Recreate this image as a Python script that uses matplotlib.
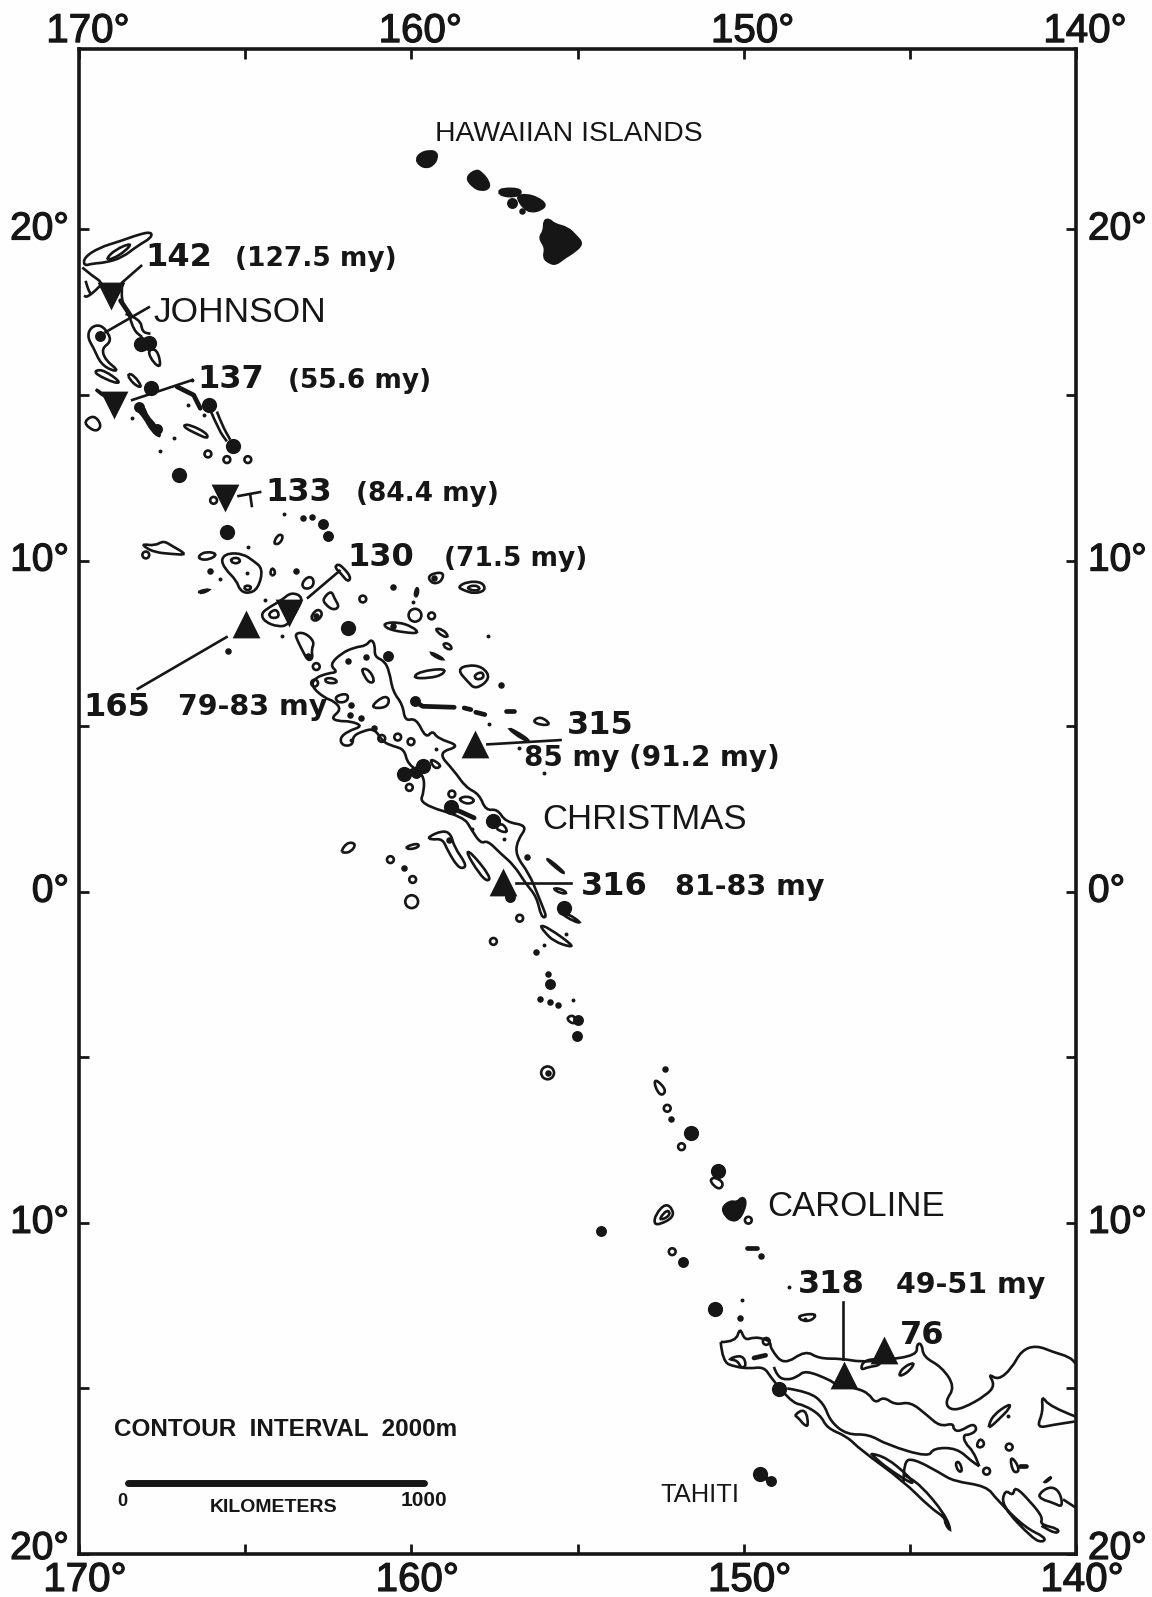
import matplotlib
matplotlib.use("Agg")
import matplotlib.pyplot as plt
import matplotlib.patheffects as pe
from matplotlib.path import Path
from matplotlib.patches import PathPatch
from matplotlib.transforms import ScaledTranslation

INK = "#161616"

lon_ticks = [170, 165, 160, 155, 150, 145, 140]
lon_labels = ["170°", "", "160°", "", "150°", "", "140°"]
lat_ticks = [20, 15, 10, 5, 0, -5, -10, -15, -20]
lat_labels = ["20°", "", "10°", "", "0°", "", "10°", "", "20°"]

# drill sites, lon W / lat
sites_down = [(169.05, 18.0), (168.95, 14.7), (165.6, 11.9), (163.68, 8.43)]
sites_up = [(164.96, 8.1), (158.09, 4.45), (157.23, 0.3), (146.97, -14.6), (145.77, -13.85)]

leaders = [
    [(168.7, 18.4), (168.13, 18.9)],
    [(169.2, 16.9), (167.9, 17.65)],
    [(168.4, 14.85), (166.6, 15.45)],
    [(165.2, 11.95), (164.55, 12.07)],
    [(164.85, 12.0), (164.8, 11.65)],
    [(163.11, 8.88), (162.16, 9.69)],
    [(165.56, 7.69), (168.23, 6.13)],
    [(157.71, 4.45), (155.51, 4.58)],
    [(156.86, 0.27), (155.21, 0.27)],
    [(147.02, -12.4), (147.02, -14.1)],
]

# islands
kauai = [(159.85, 22.12), (159.72, 22.3), (159.45, 22.37), (159.25, 22.33), (159.23, 22.15), (159.35, 21.95), (159.55, 21.87), (159.75, 21.95)]
oahu = [(158.35, 21.57), (158.05, 21.8), (157.88, 21.7), (157.68, 21.45), (157.66, 21.25), (157.9, 21.18), (158.15, 21.3)]
molokai = [(157.38, 21.13), (157.25, 21.23), (156.75, 21.22), (156.7, 21.08), (156.9, 21.0), (157.25, 21.02)]
maui = [(156.8, 21.0), (156.55, 21.05), (156.2, 20.95), (155.95, 20.75), (156.1, 20.6), (156.4, 20.53), (156.6, 20.65), (156.75, 20.85)]
hawaii = [(156, 20.27), (155.85, 20.3), (155.7, 20.15), (155.3, 20.05), (155.05, 19.8), (154.85, 19.57), (155.1, 19.33), (155.4, 19.15), (155.65, 18.95), (155.85, 19), (156.02, 19.15), (155.95, 19.45), (156.15, 19.75), (156, 19.95)]
caroline_blob = [(150.65, -9.54), (150.4, -9.34), (150.2, -9.39), (150.05, -9.22), (149.93, -9.34), (150.0, -9.64), (150.15, -9.89), (150.35, -9.94), (150.55, -9.79)]
ridge_fill = [(168.25, 14.7), (168.05, 14.65), (167.95, 14.35), (167.7, 14.1), (167.52, 13.7), (167.8, 13.9), (168.05, 14.35), (168.25, 14.55)]
filled_shapes = [kauai, oahu, molokai, maui, hawaii, caroline_blob, ridge_fill]

# closed 2000 m contours
main_contour = [
    (162.46, 6.85), (162.11, 7.2), (161.71, 7.38), (161.36, 7.43), (161.21, 7.63), (161.09, 7.45), (161.11, 7.1),
    (160.81, 6.97), (160.66, 6.65), (160.56, 6.05), (160.26, 5.65), (160.19, 5.15), (159.86, 5.25), (159.56, 4.63),
    (159.36, 4.87), (159.21, 4.63), (158.51, 4.4), (159.21, 4.2), (158.71, 3.65), (158.36, 3.15), (157.96, 2.95),
    (157.76, 2.45), (157.41, 2.5), (157.16, 2.1), (156.49, 2.0), (156.81, 1.55), (156.86, 1.1), (156.46, 0.55),
    (156.21, -0.05), (156.03, -0.5), (155.93, -0.77), (156.09, -0.77), (156.23, -0.15), (156.56, 0.25), (156.91, 0.8),
    (157.31, 1.15), (157.71, 1.55), (157.91, 1.45), (158.21, 1.9), (158.41, 2.25), (159.76, 2.65), (159.61, 3.05),
    (159.63, 3.55), (160.11, 3.85), (160.21, 4.3), (160.56, 4.4), (160.86, 4.53), (161.11, 4.93), (161.46, 4.85),
    (161.76, 4.7), (161.76, 4.43), (162.06, 4.4), (162.16, 4.63), (161.91, 4.85), (161.46, 5.0), (161.81, 5.15),
    (162.21, 5.15), (162.41, 5.25), (162.11, 5.5), (162.31, 5.75), (162.61, 5.85), (163.01, 6.2), (162.91, 6.45),
    (162.51, 6.6), (162.21, 6.63),
]
closed_contours = [
    main_contour,
    [(169.85, 19.15), (169.4, 19.45), (168.75, 19.65), (168.2, 19.85), (167.82, 19.93), (167.82, 19.75), (168.25, 19.5), (168.7, 19.15), (169.2, 19.0), (169.6, 18.97), (169.85, 18.9)],
    [(169.2, 19.1), (168.9, 19.4), (168.4, 19.6), (168.6, 19.35), (169, 19.1)],
    [(167.95, 16.35), (167.75, 15.95), (167.52, 15.83), (167.65, 16.4)],
    [(169.75, 16.75), (169.65, 17.05), (169.35, 17.13), (169.1, 16.85), (169.05, 16.6), (169.32, 16.4), (169.2, 16.05), (168.82, 15.75), (169, 15.73), (169.35, 15.95), (169.55, 16.4)],
    [(169.5, 15.75), (169.25, 15.75), (168.75, 15.4), (168.9, 15.35), (169.5, 15.63)],
    [(168.52, 15.65), (168.35, 15.6), (168.1, 15.25), (168.25, 15.25), (168.5, 15.5)],
    [(169.55, 15.2), (169.35, 15.1), (169.25, 14.95)],
    [(169.85, 14.2), (169.55, 14.4), (169.32, 14.1), (169.45, 13.9), (169.7, 14.0)],
    [(166.85, 14.1), (166.65, 14.1), (166.15, 13.85), (166.12, 13.67), (166.5, 13.85), (166.8, 14)],
    [(164.16, 10.5), (164.01, 10.8), (163.84, 10.75), (163.96, 10.5)],
    [(168.09, 10.5), (167.71, 10.45), (167.46, 10.6), (167.21, 10.45), (166.73, 10.17), (167.21, 10.2), (167.71, 10.25), (168.01, 10.4)],
    [(166.41, 10.15), (166.16, 10.28), (165.83, 10.2), (166.06, 10.03), (166.36, 10.03)],
    [(165.73, 10.05), (165.51, 10.23), (165.06, 10.2), (164.76, 10.0), (164.46, 9.75), (164.61, 9.15), (164.91, 9.0), (165.16, 9.1), (165.26, 9.4), (165.61, 9.75)],
    [(165.46, 10.05), (165.21, 10.1), (165.13, 9.95), (165.36, 9.9)],
    [(165.01, 9.25), (164.81, 9.23), (164.86, 9.1), (165.03, 9.13)],
    [(164.26, 9.6), (164.19, 9.8), (164.08, 9.65), (164.16, 9.53)],
    [(166.43, 9.07), (166.01, 9.15), (166.31, 9.0)],
    [(163.31, 9.3), (163.11, 9.53), (162.93, 9.45), (162.96, 9.2), (163.21, 9.13)],
    [(164.53, 8.4), (164.26, 8.6), (163.91, 8.8), (163.61, 9.05), (163.26, 8.9), (163.41, 8.55), (163.71, 8.05), (164.01, 8.0), (164.41, 8.15)],
    [(164.31, 8.4), (164.06, 8.55), (163.96, 8.3), (164.21, 8.25)],
    [(162.21, 9.9), (162.06, 9.8), (161.81, 9.5), (161.91, 9.35), (162.11, 9.6), (162.31, 9.8)],
    [(162.66, 8.85), (162.41, 9.1), (162.31, 8.85), (162.16, 8.6), (162.36, 8.5), (162.61, 8.7)],
    [(163.01, 8.35), (162.81, 8.55), (162.66, 8.4), (162.81, 8.18), (162.99, 8.2)],
    [(163.51, 7.8), (163.21, 7.83), (162.91, 7.55), (163.01, 7.3), (162.96, 7.05), (163.11, 6.97), (163.26, 7.25), (163.41, 7.55)],
    [(159.51, 9.5), (159.31, 9.63), (159.01, 9.63), (159.11, 9.35), (159.36, 9.3)],
    [(158.61, 9.2), (158.31, 9.37), (157.86, 9.35), (157.76, 9.1), (158.11, 9.0), (158.41, 9.1)],
    [(158.36, 9.17), (158.11, 9.27), (157.91, 9.17), (158.06, 9.07)],
    [(159.91, 8.95), (159.84, 9.2), (159.78, 9.1), (159.84, 8.9)],
    [(160.86, 8.1), (160.41, 8.15), (159.96, 8.0), (159.76, 7.8), (160.21, 7.83), (160.71, 7.93)],
    [(159.31, 7.95), (159.06, 7.93), (158.86, 7.7), (159.06, 7.7)],
    [(159.06, 7.5), (158.86, 7.5), (158.76, 7.32), (158.96, 7.33)],
    [(159.46, 7.23), (159.26, 7.17), (158.99, 7.0), (159.21, 7.05)],
    [(159.96, 6.45), (159.76, 6.65), (158.96, 6.75), (159.06, 6.55), (159.46, 6.45)],
    [(158.61, 6.7), (158.31, 6.85), (157.86, 6.8), (157.61, 6.45), (158.06, 6.1), (158.31, 6.35)],
    [(158.11, 6.55), (157.86, 6.65), (157.81, 6.45), (158.06, 6.4)],
    [(156.36, 5.15), (156.11, 5.3), (155.79, 5.05), (156.11, 5.03)],
    [(157.11, 4.95), (156.86, 4.85), (156.41, 4.55), (156.66, 4.6)],
    [(162.61, 6.45), (162.31, 6.45), (162.21, 6.3), (162.56, 6.3)],
    [(161.51, 6.75), (161.26, 6.7), (161.09, 6.35), (161.26, 6.3), (161.41, 6.5)],
    [(161.21, 5.6), (160.86, 5.9), (160.66, 5.85), (160.71, 5.6), (161.01, 5.53)],
    [(162.31, 5.9), (161.91, 6.0), (161.91, 5.75), (162.21, 5.7)],
    [(159.46, 4.05), (159.06, 3.8), (159.31, 3.7)],
    [(158.61, 2.8), (158.31, 2.9), (158.06, 2.75), (158.31, 2.63)],
    [(157.51, 1.9), (157.06, 1.75), (157.26, 2.1)],
    [(159.51, 1.65), (159.06, 1.85), (158.81, 1.75), (158.71, 1.35), (158.36, 0.85), (158.41, 0.7), (158.61, 0.75), (158.91, 1.25), (159.06, 1.6), (159.41, 1.57)],
    [(158.36, 1.2), (158.21, 1.2), (157.61, 0.45), (157.71, 0.3), (157.96, 0.55)],
    [(162.11, 1.25), (161.91, 1.5), (161.66, 1.45), (161.81, 1.2), (162.06, 1.17)],
    [(160.19, 1.35), (159.81, 1.47), (159.76, 1.35), (160.06, 1.27)],
    [(155.96, 1.0), (155.81, 0.95), (155.36, 0.55), (155.51, 0.6)],
    [(155.76, 0.1), (155.51, 0.1), (155.29, -0.05), (155.51, -0.05)],
    [(155.31, -0.65), (154.86, -0.95), (155.11, -0.9), (155.51, -0.65)],
    [(156.13, -1.0), (155.86, -1.1), (155.16, -1.6), (155.21, -1.67), (155.71, -1.5), (156.01, -1.2)],
    [(155.32, -3.79), (155.1, -3.72), (155.05, -3.99), (155.25, -3.94)],
    [(152.7, -5.74), (152.6, -5.69), (152.33, -5.99), (152.45, -6.16), (152.6, -6.04)],
    [(151.02, -8.69), (150.85, -8.62), (150.6, -8.79), (150.7, -8.99), (150.9, -8.89)],
    [(152.7, -10.04), (152.65, -9.74), (152.35, -9.41), (152.13, -9.59), (152.13, -9.84), (152.5, -10.04)],
    [(152.55, -9.89), (152.3, -9.59), (152.2, -9.74), (152.4, -9.89)],
    [(148.39, -12.8), (147.79, -12.73), (147.94, -12.95), (148.24, -12.97)],
    [(150.49, -14.12), (150.04, -13.98), (149.91, -14.3), (150.07, -14.4), (150.19, -14.15)],
    [(148.49, -15.8), (148.14, -15.6), (148.04, -16.15), (148.19, -16.1), (148.34, -15.9)],
    [(146.49, -14.45), (146.39, -14.15), (145.89, -14.1), (145.89, -14.3), (146.24, -14.35)],
    [(145.34, -14.6), (145.19, -14.35), (144.84, -14.2), (144.99, -14.45), (145.24, -14.62)],
    [(143.01, -16.75), (142.89, -16.5), (142.74, -16.65), (142.84, -16.8)],
    [(143.64, -17.25), (143.51, -17.2), (143.41, -17.5), (143.54, -17.52)],
    [(142.64, -16.15), (142.49, -15.8), (141.99, -15.45), (141.99, -15.6), (142.34, -15.95), (142.59, -16.18)],
    [(141.99, -17.1), (141.84, -17.15), (141.69, -17.5), (141.89, -17.55)],
    [(141.14, -18.2), (140.79, -17.95), (140.49, -18.1), (140.39, -18.6), (140.69, -18.45), (141.04, -18.35)],
    [(140.99, -17.85), (140.69, -17.62), (140.84, -17.8)],
    [(146.19, -16.95), (145.69, -17.1), (145.09, -17.6), (144.89, -17.85), (144.99, -17.85), (145.69, -17.4), (146.09, -17.05)],
]

# contours that run on or off the frame
north_contour = [
    (150.69, -13.6), (150.24, -13.6), (150.11, -13.15), (149.97, -13.55), (149.69, -13.45), (149.39, -13.5), (149.19, -13.6),
    (149.19, -13.8), (148.79, -14.3), (148.14, -13.85), (147.74, -14.1), (147.04, -14.1), (146.49, -14.2), (145.79, -14.15),
    (144.79, -14.0), (144.79, -13.65), (144.64, -13.65), (144.59, -14.05), (144.04, -14.35), (143.64, -14.95), (143.94, -15.4),
    (143.79, -15.65), (143.39, -15.6), (142.69, -15.2), (142.44, -14.9), (142.64, -14.55), (142.34, -14.75), (141.94, -14.4),
    (141.64, -13.85), (141.19, -13.7), (140.69, -13.9), (140.19, -14.05), (140.01, -14.25),
]
middle_contour = [
    (149.09, -14.35), (148.99, -14.65), (148.69, -14.75), (148.39, -14.65), (148.14, -14.45), (147.39, -14.75), (147.29, -14.85),
    (146.59, -15), (146.24, -15.15), (146.04, -15.45), (145.79, -15.25), (145.44, -15.5), (144.99, -15.4), (144.49, -15.8),
    (144.09, -16.15), (143.69, -16.05), (143.69, -16.25), (143.49, -16.3), (143.09, -16.05), (142.97, -16.25), (143.19, -16.4),
    (143.39, -16.4), (143.34, -16.65), (143.09, -16.9), (142.91, -17.35),
]
west_contour = [
    (150.69, -13.6), (150.64, -14.2), (150.24, -14.35), (149.84, -14.4), (149.39, -14.35), (149.19, -14.65), (148.91, -15.0),
    (148.49, -15.45), (148.19, -15.5), (147.69, -15.8), (147.49, -16.2), (146.89, -16.45), (146.49, -16.85), (145.19, -17.8),
    (144.39, -18.6), (143.94, -18.9), (143.94, -19.1), (143.74, -19.35), (143.94, -18.8), (144.69, -17.9), (145.19, -17.6),
]
upper_contour = [
    (148.69, -15), (148.04, -15.1), (147.59, -15.45), (147.39, -16), (146.89, -16.4), (146.24, -16.38), (145.69, -16.7),
    (144.44, -17.08), (144.29, -16.8), (143.59, -16.8), (143.14, -17.2), (142.91, -17.35),
]
south_contour = [
    (145.19, -17.85), (145.19, -17.2), (144.89, -17.12), (144.09, -17.55), (143.69, -17.8), (142.69, -17.95), (142.39, -18.35),
    (141.54, -19.2), (140.91, -19.5), (140.99, -19.65), (141.29, -19.55), (142.24, -18.55), (142.14, -18.05), (141.89, -18.25),
    (141.84, -17.95), (141.39, -18.4), (140.99, -18.9), (141.09, -19.1), (140.49, -19.25), (140.59, -19.4), (141.04, -19.15),
]
open_contours = [
    north_contour, middle_contour, west_contour, upper_contour, south_contour,
    [(169.9, 18.85), (169.6, 18.6), (169.3, 18.4), (169.4, 18.25), (169.75, 17.95), (169.85, 18.0)],
    [(169.8, 18.45), (169.75, 18.25), (169.65, 18.05)],
    [(168.7, 18.35), (168.75, 17.85), (168.5, 17.45), (168.35, 16.95), (168.1, 16.75)],
    [(168.6, 17.45), (168.15, 17.3), (168.1, 16.9), (167.85, 16.85)],
    [(165.85, 14.5), (165.7, 14.1), (165.45, 13.65)],
    [(166.05, 14.55), (165.8, 13.95), (165.55, 13.6)],
    [(140.01, -15.85), (140.79, -15.55), (141.04, -15.2), (140.99, -15.7), (141.19, -16.2), (140.69, -16.1), (140.04, -16.0)],
    [(140.39, -18.35), (140.01, -18.6)],
]

# narrow ridges, drawn as heavy lines
heavy_lines = [
    [(167.05, 15.25), (166.55, 15.0), (166.35, 14.6)],
    [(159.89, 5.75), (159.66, 5.6), (158.71, 5.57)],
    [(158.41, 5.55), (158.21, 5.5)],
    [(158.06, 5.42), (157.79, 5.35)],
    [(157.16, 5.47), (156.91, 5.47)],
    [(158.81, 2.55), (158.11, 2.23)],
    [(149.69, -14.08), (149.34, -14.0)],
    [(149.9, -10.77), (149.6, -10.77)],
    [(149.51, -17.58), (149.19, -17.8)],
    [(141.69, -17.35), (141.49, -17.35)],
    [(160.21, 3.55), (159.66, 3.8)],
    [(168.75, 17.85), (168.45, 17.4)],
]

dots_large = [
    (168.13, 16.55), (167.9, 16.58), (167.82, 15.2), (166.1, 14.7), (165.38, 13.47), (167, 12.58), (165.55, 10.85), (161.91, 7.97),
    (160.21, 3.55), (159.66, 3.8), (158.81, 2.55), (157.53, 2.15), (155.41, -0.5), (151.59, -7.29), (150.78, -8.42),
    (150.85, -12.6), (148.94, -15.03), (149.51, -17.58),
]
dots_medium = [
    (169.38, 16.77), (159.86, 3.6), (155.84, -2.79), (154.98, -3.86), (155.02, -4.36), (154.3, -10.24), (151.83, -11.19),
    (157.03, -0.15), (159.89, 5.75), (160.71, 7.13), (149.19, -17.8), (162.65, 11.1), (162.5, 10.75),
    (156.98, 20.8), (168.2, 14.65), (167.65, 13.98),
]
dots_small = [
    (166.06, 9.68), (163.46, 9.68), (165.51, 7.28), (160.56, 9.2), (162.86, 8.33), (163.11, 7.13), (160.56, 8.03), (157.29, 6.23),
    (161.91, 6.97), (161.36, 7.1), (161.81, 5.65), (161.86, 5.35), (161.51, 5.25), (161.11, 4.95), (158.86, 1.55), (160.21, 0.72),
    (156.53, 1.05), (156.26, -1.83), (155.88, -2.47), (156.12, -3.24), (152.37, -5.34), (152.18, -6.85), (149.48, -11.0),
    (150.12, -12.87), (156.67, 20.55), (163.25, 11.28), (163.0, 11.32), (155.82, -3.34), (155.58, -3.42), (159.31, 9.47),
    (155.9, -5.47),
]
dots_tiny = [
    (166.72, 14.7), (166.25, 14.4), (168.42, 14.3), (167.15, 13.7), (167.55, 13.32), (163.82, 11.4), (166.6, 15.45),
    (165.76, 9.45), (164.91, 10.4), (164.41, 8.82), (163.89, 7.72), (159.94, 8.75), (157.68, 7.72), (157.66, 5.07), (156.76, 4.33),
    (156.01, 3.58), (161.81, 4.57), (159.26, 4.3), (158.16, 1.9), (157.21, 1.6), (155.36, -1.28), (156.01, -1.62),
    (155.14, -3.26), (150.05, -12.33), (148.64, -11.95), (148.14, -12.9), (142.06, -15.82), (164.93, 9.63),
]
rings_large = [(159.89, 8.35), (155.9, -5.47), (159.99, -0.3)]
rings_small = [
    (165.55, 13.05), (164.92, 13.05), (166.12, 13.22), (165.95, 11.82), (167.99, 10.17), (161.46, 8.84), (159.39, 8.33),
    (162.86, 6.8), (162.91, 6.3), (160.89, 4.63), (160.41, 4.67), (160.01, 4.53), (160.06, 3.15), (158.78, 2.95),
    (160.63, 0.97), (159.96, 0.37), (156.74, -0.8), (157.53, -1.5), (152.3, -6.54), (151.87, -7.7), (149.86, -9.92),
    (152.15, -10.87), (149.32, -13.58), (142.69, -17.5), (142.01, -16.77),
]

scale_bar = [(168.53, -17.86), (159.63, -17.86)]

# label, lon, lat
site_numbers = [
    ("142", 168.0, 18.9), ("137", 166.45, 15.2), ("133", 164.4, 11.8), ("130", 161.91, 9.85),
    ("165", 169.86, 5.3), ("315", 155.32, 4.76), ("316", 154.9, -0.1), ("318", 148.36, -12.12), ("76", 145.31, -13.65),
]
site_ages = [
    ("(127.5 my)", 165.3, 18.9, 19), ("(55.6 my)", 163.7, 15.2, 19), ("(84.4 my)", 161.65, 11.8, 19), ("(71.5 my)", 159.01, 9.85, 19),
    ("79-83 my", 167.01, 5.35, 20.5), ("85 my (91.2 my)", 156.6, 3.79, 20), ("81-83 my", 152.07, -0.1, 20.5), ("49-51 my", 145.41, -12.12, 20.5),
]
place_names = [
    ("HAWAIIAN ISLANDS", 159.3, 22.68, 20.4), ("JOHNSON", 167.75, 17.2, 25.5), ("CHRISTMAS", 156.07, 1.89, 25),
    ("CAROLINE", 149.28, -9.79, 25), ("TAHITI", 152.51, -18.42, 18.4),
]
scale_texts = [
    ("CONTOUR  INTERVAL  2000m", 168.96, -16.45, 17.5), ("0", 168.85, -18.56, 13),
    ("KILOMETERS", 166.06, -18.73, 14), ("1000", 160.31, -18.56, 15),
]


def round_path(pts, closed):
    # quadratic curves through the midpoints, so the outlines have no corners
    mid = [((a[0] + b[0]) / 2, (a[1] + b[1]) / 2) for a, b in zip(pts, pts[1:] + pts[:1])]
    verts, codes = [], []
    if closed:
        verts.append(mid[-1])
        codes.append(Path.MOVETO)
        for p, m in zip(pts, mid):
            verts += [p, m]
            codes += [Path.CURVE3, Path.CURVE3]
    else:
        verts.append(pts[0])
        codes.append(Path.MOVETO)
        for p, m in zip(pts[1:-1], mid[1:-1]):
            verts += [p, m]
            codes += [Path.CURVE3, Path.CURVE3]
        verts.append(pts[-1])
        codes.append(Path.LINETO)
    return Path(verts, codes)


def nudge(label, dx, dy):
    # move a tick label by some pixels, the scan is not quite square
    label.set_transform(label.get_transform() + ScaledTranslation(dx / 100, dy / 100, fig.dpi_scale_trans))


fig = plt.figure(figsize=(11.52, 15.97), dpi=100, facecolor="#fefefe")
ax = fig.add_axes([79 / 1152, 1 - 1554 / 1597, (1076 - 79) / 1152, (1554 - 49) / 1597], facecolor="#fefefe")
ax.set_xlim(170, 140)
ax.set_ylim(-20, 25.45)

for pts in closed_contours:
    ax.add_patch(PathPatch(round_path(pts, True), fc="none", ec=INK, lw=1.9))
for pts in open_contours:
    ax.add_patch(PathPatch(round_path(pts, False), fc="none", ec=INK, lw=1.9))
for pts in filled_shapes:
    ax.add_patch(PathPatch(round_path(pts, True), fc=INK, ec=INK, lw=2.0))
for pts in heavy_lines:
    ax.plot(*zip(*pts), color=INK, lw=3.4, solid_capstyle="round")
for pts in leaders:
    ax.plot(*zip(*pts), color=INK, lw=1.9)

for pts, size in [(dots_large, 120), (dots_medium, 62), (dots_small, 22), (dots_tiny, 8)]:
    ax.scatter(*zip(*pts), s=size, color=INK, linewidths=0, zorder=3)
for pts, size in [(rings_large, 85), (rings_small, 24)]:
    ax.scatter(*zip(*pts), s=size, facecolors="none", edgecolors=INK, linewidths=1.9, zorder=3)
ax.scatter(*zip(*sites_down), s=400, marker="v", color=INK, linewidths=0, zorder=4)
ax.scatter(*zip(*sites_up), s=400, marker="^", color=INK, linewidths=0, zorder=4)

ax.plot(*zip(*scale_bar), color=INK, lw=5, solid_capstyle="round")

for label, lon, lat in site_numbers:
    ax.text(lon, lat, label, fontsize=23, fontweight="bold", family="DejaVu Sans", color=INK, zorder=5)
for label, lon, lat, size in site_ages:
    ax.text(lon, lat, label, fontsize=size, fontweight="bold", family="DejaVu Sans", color=INK, zorder=5)
for label, lon, lat, size in place_names:
    ax.text(lon, lat, label, fontsize=size, family="Liberation Sans", color=INK, zorder=5)
for label, lon, lat, size in scale_texts:
    ax.text(lon, lat, label, fontsize=size, fontweight="bold", family="Liberation Sans", color=INK, zorder=5)

ax.set_xticks(lon_ticks, lon_labels)
ax.set_yticks(lat_ticks, lat_labels)
ax.tick_params(axis="both", which="major", direction="in", length=7, width=2, color=INK, labelcolor=INK,
               top=True, right=True, labeltop=True, labelright=True, labelsize=29, pad=5)
ax.tick_params(axis="y", labelsize=28)
heavier = [pe.withStroke(linewidth=0.9, foreground=INK)]
for tick in ax.xaxis.get_major_ticks():
    nudge(tick.label1, 6, 0)
    nudge(tick.label2, 9, -8)
    tick.label1.set_family("Liberation Sans")
    tick.label2.set_family("Liberation Sans")
    tick.label1.set_path_effects(heavier)
    tick.label2.set_path_effects(heavier)
for lat, tick in zip(lat_ticks, ax.yaxis.get_major_ticks()):
    up = 9 if lat == -20 else 4
    nudge(tick.label1, -3, up)
    nudge(tick.label2, 5, up)
    tick.label1.set_family("Liberation Sans")
    tick.label2.set_family("Liberation Sans")
    tick.label1.set_path_effects(heavier)
    tick.label2.set_path_effects(heavier)
for side in ax.spines.values():
    side.set_linewidth(2.6)
    side.set_color(INK)

fig.savefig("out.png", dpi=100, facecolor=fig.get_facecolor())
